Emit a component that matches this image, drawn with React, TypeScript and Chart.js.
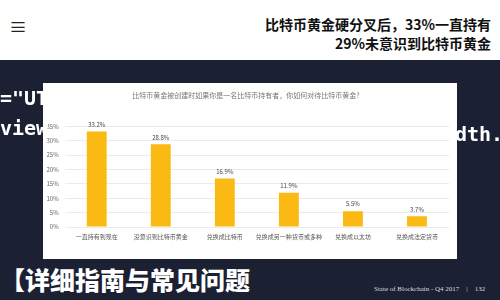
import React, { useEffect, useRef } from "react";
import { Chart, registerables } from "chart.js";

Chart.register(...registerables);

const categories = [
  "一直持有到现在",
  "没意识到比特币黄金",
  "兑换成比特币",
  "兑换成另一种货币或多种",
  "兑换成以太坊",
  "兑换成法定货币",
];
const values = [33.2, 28.8, 16.9, 11.9, 5.5, 3.7];
const yTicks = [0, 5, 10, 15, 20, 25, 30, 35];
const chartTitle = "比特币黄金被创建时如果你是一名比特币持有者，你如何对待比特币黄金?";
const headline = ["比特币黄金硬分叉后，33%一直持有", "29%未意识到比特币黄金"];

const FONT = "'Noto Sans CJK SC', 'Noto Sans', sans-serif";

const valueLabels = {
  id: "valueLabels",
  afterDatasetsDraw(chart: any) {
    const ctx = chart.ctx;
    const meta = chart.getDatasetMeta(0);
    ctx.save();
    ctx.font = `6px ${FONT}`;
    ctx.fillStyle = "#444";
    ctx.textAlign = "center";
    ctx.textBaseline = "bottom";
    meta.data.forEach((el: any, i: number) => {
      ctx.fillText(values[i].toFixed(1) + "%", el.x, el.y - 4);
    });
    ctx.restore();
  },
};

const overlayMono: React.CSSProperties = {
  position: "absolute",
  fontFamily: "'DejaVu Sans Mono', monospace",
  fontWeight: 700,
  fontSize: 20,
  color: "#fff",
  lineHeight: "24px",
  whiteSpace: "pre",
};

export default function App() {
  const ref = useRef<HTMLCanvasElement | null>(null);

  useEffect(() => {
    if (!ref.current) return;
    const chart = new Chart(ref.current, {
      type: "bar",
      data: {
        labels: categories,
        datasets: [
          {
            data: values,
            backgroundColor: "#FBB914",
            borderWidth: 0,
            categoryPercentage: 1,
            barPercentage: 0.31,
          },
        ],
      },
      options: {
        responsive: false,
        animation: false,
        layout: { padding: { left: 0, right: 8, top: 8, bottom: 12 } },
        plugins: {
          legend: { display: false },
          tooltip: { enabled: false },
          title: {
            display: true,
            text: chartTitle,
            color: "#777",
            font: { size: 7, family: FONT, weight: "normal" },
            padding: { top: 0, bottom: 27 },
          },
        },
        scales: {
          x: {
            grid: { display: false, drawTicks: false },
            border: { display: false },
            ticks: {
              color: "#555",
              font: { size: 6, family: FONT },
              padding: 6,
              maxRotation: 0,
              autoSkip: false,
            },
            afterFit: (s: any) => {
              s.height = 20;
            },
          },
          y: {
            min: 0,
            max: 35,
            afterBuildTicks: (s: any) => {
              s.ticks = yTicks.map((v) => ({ value: v }));
            },
            ticks: {
              color: "#666",
              font: { size: 6, family: FONT },
              padding: 6,
              callback: (v: any) => v + "%",
            },
            grid: { color: "#ebebeb", drawTicks: false },
            border: { display: false },
            afterFit: (s: any) => {
              s.width = 21.7;
            },
          },
        },
      },
      plugins: [valueLabels],
    } as any);
    return () => chart.destroy();
  }, []);

  return (
    <div
      style={{
        position: "absolute",
        left: 0,
        top: 0,
        width: 500,
        height: 300,
        overflow: "hidden",
        background: "#1c2033",
        fontFamily: FONT,
      }}
    >
      <div
        style={{
          position: "absolute",
          left: 0,
          top: 0,
          width: 500,
          height: 60,
          background: "#fff",
        }}
      >
        <div style={{ position: "absolute", left: 9, top: 16, fontSize: 18, color: "#222", lineHeight: "20px" }}>≡</div>
        <div
          style={{
            position: "absolute",
            right: 9,
            top: 15,
            textAlign: "right",
            fontSize: 14,
            fontWeight: 700,
            lineHeight: "19px",
            color: "#111",
          }}
        >
          <div>{headline[0]}</div>
          <div>{headline[1]}</div>
        </div>
      </div>
      <div
        style={{
          position: "absolute",
          left: 43,
          top: 83,
          width: 414,
          height: 176,
          background: "#fff",
        }}
      >
        <canvas ref={ref} width={414} height={176} style={{ display: "block", width: 414, height: 176 }} />
      </div>
      <div style={{ ...overlayMono, left: 0, top: 86 }}>{'="UT'}</div>
      <div style={{ ...overlayMono, left: 0, top: 116 }}>view</div>
      <div style={{ ...overlayMono, left: 455, top: 122 }}>dth.</div>
      <div
        style={{
          position: "absolute",
          left: 0,
          top: 264,
          fontSize: 25,
          fontWeight: 900,
          color: "#fff",
          lineHeight: "30px",
          whiteSpace: "pre",
        }}
      >
        【详细指南与常见问题
      </div>
      <div
        style={{
          position: "absolute",
          left: 374,
          top: 285,
          fontFamily: "'Liberation Serif', serif",
          fontSize: 7,
          color: "#ddd",
          whiteSpace: "pre",
        }}
      >
        {"State of Blockchain - Q4 2017    |    132"}
      </div>
    </div>
  );
}
